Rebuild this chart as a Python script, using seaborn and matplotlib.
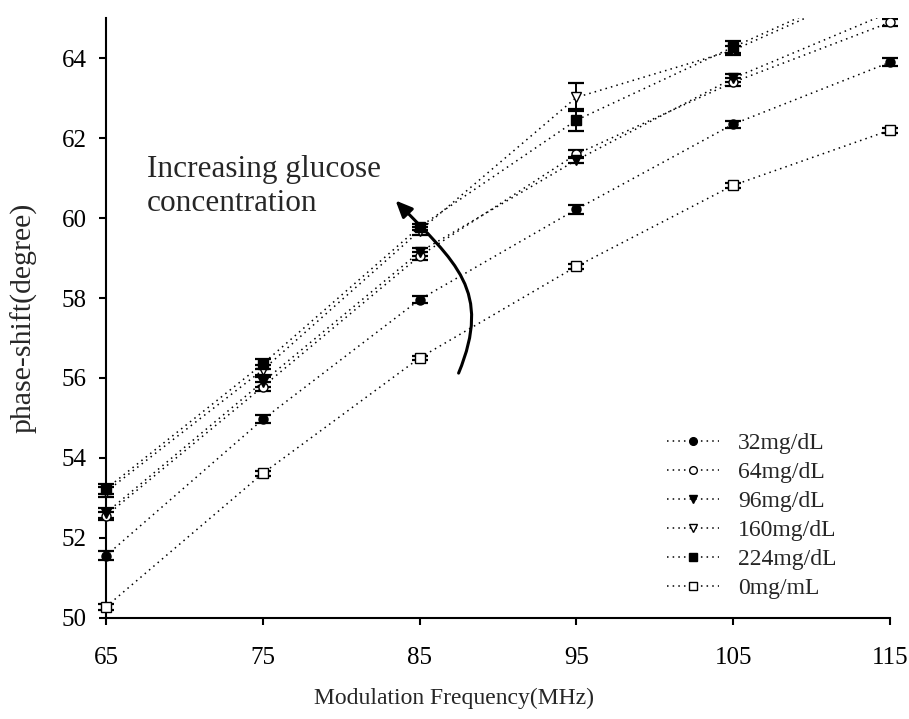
import matplotlib
matplotlib.use("Agg")
import matplotlib.pyplot as plt
from matplotlib.patches import Rectangle, FancyArrowPatch
from matplotlib.path import Path
import numpy as np
import pandas as pd
import seaborn as sns

# ---- data -------------------------------------------------------------
freqs = [65, 75, 85, 95, 105, 115]  # MHz

labels = ["32mg/dL", "64mg/dL", "96mg/dL", "160mg/dL", "224mg/dL", "0mg/mL"]

phase_32 = [51.55, 54.96, 57.96, 60.22, 62.35, 63.90]
phase_64 = [52.55, 55.78, 59.05, 61.60, 63.40, 64.90]
phase_96 = [52.62, 55.90, 59.15, 61.45, 63.50, 65.15]
phase_160 = [53.15, 56.20, 59.68, 63.02, 64.20, 65.95]
phase_224 = [53.22, 56.35, 59.78, 62.45, 64.28, 66.05]
phase_0 = [50.27, 53.61, 56.50, 58.79, 60.82, 62.20]

err_32 = [0.12, 0.10, 0.08, 0.11, 0.09, 0.10]
err_64 = [0.10, 0.12, 0.10, 0.10, 0.10, 0.08]
err_96 = [0.12, 0.12, 0.10, 0.08, 0.10, 0.10]
err_160 = [0.12, 0.12, 0.10, 0.35, 0.12, 0.10]
err_224 = [0.12, 0.12, 0.08, 0.28, 0.15, 0.10]
err_0 = [0.08, 0.06, 0.06, 0.06, 0.06, 0.06]

phases = [phase_32, phase_64, phase_96, phase_160, phase_224, phase_0]
errors = [err_32, err_64, err_96, err_160, err_224, err_0]

df = pd.DataFrame({
    "freq": np.tile(freqs, len(labels)),
    "phase": np.concatenate(phases),
    "err": np.concatenate(errors),
    "conc": np.repeat(labels, len(freqs)),
})

# marker shape and face colour for each concentration
styles = {
    "32mg/dL": ("o", "black"),
    "64mg/dL": ("o", "white"),
    "96mg/dL": ("v", "black"),
    "160mg/dL": ("v", "white"),
    "224mg/dL": ("s", "black"),
    "0mg/mL": ("s", "white"),
}

# ---- figure -----------------------------------------------------------
sns.set_style("white")
plt.rcParams["font.family"] = ["Liberation Serif", "DejaVu Serif"]

fig = plt.figure(figsize=(9.09, 7.19), dpi=100)
ax = fig.add_axes([0.1166, 0.141, 0.8624, 0.8335])

# let markers at the x limits show in full, but cut lines at the top
clip_rect = Rectangle((-0.05, -0.06), 1.1, 1.06, transform=ax.transAxes,
                      fill=False, visible=False)

for lab in labels:
    sub = df[df["conc"] == lab]
    mk, fc = styles[lab]
    eb = ax.errorbar(sub["freq"], sub["phase"], yerr=sub["err"], fmt="none",
                     ecolor="black", elinewidth=1.4, capsize=5.5, capthick=1.6,
                     zorder=3)
    for art in eb.lines[1] + eb.lines[2]:
        art.set_clip_path(clip_rect)
    sns.lineplot(data=sub, x="freq", y="phase", ax=ax, color="black",
                 marker=mk, markersize=6.5, markerfacecolor=fc,
                 markeredgecolor="black", markeredgewidth=1.0,
                 linestyle=(0, (1, 2.7)), linewidth=1.1, errorbar=None,
                 label=lab, zorder=4)
    ax.get_lines()[-1].set_clip_path(clip_rect)

ax.set_xlim(65, 115)
ax.set_ylim(50, 65)
ax.set_xticks(freqs)
ax.set_yticks(np.arange(50, 65, 2))

for side in ("top", "right"):
    ax.spines[side].set_visible(False)
for side in ("left", "bottom"):
    ax.spines[side].set_linewidth(1.5)
    ax.spines[side].set_color("black")

ax.tick_params(axis="both", direction="out", length=5, width=1.5,
               labelsize=18, colors="black", left=True, bottom=True)
ax.tick_params(axis="y", pad=9)
ax.tick_params(axis="x", pad=16)

ax.set_xlabel("Modulation Frequency(MHz)", fontsize=17)
ax.set_ylabel("phase-shift(degree)", fontsize=21.5)
ax.xaxis.set_label_coords(0.444, -0.117)
ax.yaxis.set_label_coords(-0.088, 0.5)

leg = ax.legend(loc="upper left", bbox_to_anchor=(0.7156, 0.309),
                frameon=False, fontsize=17, handlelength=2.2,
                handletextpad=0.8, labelspacing=0.32, borderpad=0,
                borderaxespad=0, markerscale=0.85)

# annotation: curved arrow pointing towards higher concentration
ax.text(67.6, 61.58, "Increasing glucose\nconcentration", fontsize=22.5,
        ha="left", va="top", linespacing=1.25)
arrow_path = Path(
    [(87.49, 56.12), (89.66, 58.19), (87.30, 58.89), (83.47, 60.44)],
    [Path.MOVETO, Path.CURVE4, Path.CURVE4, Path.CURVE4],
)
arrow = FancyArrowPatch(path=arrow_path,
                        arrowstyle="-|>,head_length=0.5,head_width=0.22",
                        mutation_scale=20, lw=2.2, color="black",
                        transform=ax.transData, clip_on=False, zorder=5)
ax.add_patch(arrow)

fig.savefig("out.png", dpi=100, facecolor="white")
